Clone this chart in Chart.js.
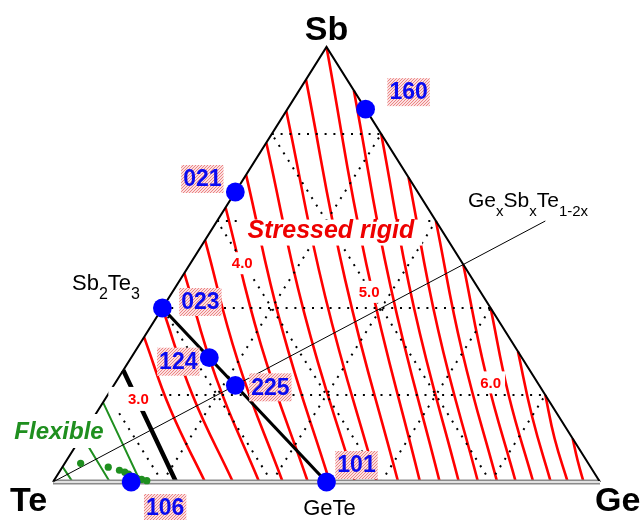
<!DOCTYPE html>
<html><head><meta charset="utf-8">
<script src="https://cdn.jsdelivr.net/npm/chart.js@4.4.1/dist/chart.umd.min.js"></script>
<style>html,body{margin:0;padding:0;background:#fff;overflow:hidden}</style>
</head><body>
<canvas id="c" width="642" height="520" style="display:block;width:642px;height:520px"></canvas>
<script>
// ---- data (atomic fractions) ----
const sampleNames = ['160','021','023','124','225','101','106'];
const sampleGe = [1/7, 0, 0, 1/7, 2/9, 1/2, 1/7];
const sampleSb = [6/7, 2/3, 2/5, 2/7, 2/9, 0, 0];

const greenGe = [0.029, 0.084, 0.108, 0.120, 0.129, 0.141, 0.149, 0.159, 0.170];
const greenSb = [0.043, 0.034, 0.027, 0.0225, 0.018, 0.012, 0.0085, 0.006, 0.003];

// constraint contours: end on the upper edge, pass a mid point, end on the Te-Ge base
const contourValues = [2.4,2.6,2.8,3.0,3.2,3.4,3.6,3.8,4.0,4.2,4.4,4.6,4.8,5.0,5.2,5.4,5.6,5.8,6.0,6.2,6.4,6.6,6.8];
const contourTopGe  = [0,0,0,0,0,0,0,0,0,0,0,0,0,0,0.1,0.2,0.3,0.4,0.5,0.6,0.7,0.8,0.9];
const contourTopSb  = [0.035,0.106,0.183,0.257,0.333,0.40,0.48,0.556,0.631,0.706,0.78,0.853,0.925,1.0,0.9,0.8,0.7,0.6,0.5,0.4,0.3,0.2,0.1];
const contourMidGe  = [null,null,null,null,0.131,0.155,0.178,0.199,0.222,0.242,0.264,0.284,0.303,0.323,0.392,0.460,0.529,0.598,0.666,0.733,0.801,0.867,0.934];
const contourMidSb  = [null,null,null,null,0.167,0.200,0.240,0.278,0.316,0.353,0.390,0.427,0.463,0.500,0.450,0.400,0.350,0.300,0.250,0.200,0.150,0.100,0.050];
const contourBaseGe = [0.036,0.104,0.16,0.225,0.278,0.329,0.377,0.420,0.466,0.506,0.552,0.592,0.631,0.671,0.707,0.742,0.777,0.812,0.846,0.878,0.910,0.941,0.970];
const contourLabelValues = ['3.0','4.0','5.0','6.0'];

const gridLevels = [0.2, 0.4, 0.6, 0.8];
const tieGe = [0, 0.5];      // Sb2Te3 -> GeTe
const tieSb = [0.4, 0];
const seriesX = [0, 0.6];    // GexSbxTe1-2x

// ---- helpers ----
const P = (g, s) => ({x: g + s / 2, y: s});
const lineDS = (pts, color, width, order, dash, tension) => ({
  data: pts, showLine: true, borderColor: color, backgroundColor: color, borderWidth: width,
  pointRadius: 0, pointHoverRadius: 0, fill: false, tension: tension || 0, clip: false, order: order,
  borderDash: dash || [], borderCapStyle: 'butt'
});

const datasets = [];
contourValues.forEach((v, i) => {
  let color = '#ff0000', w = 2.6;
  if (v < 3) { color = '#1f8f1f'; w = 2; }
  else if (v === 3) { color = '#000000'; w = 4.5; }
  const pts = [P(contourTopGe[i], contourTopSb[i])];
  if (contourMidGe[i] !== null) pts.push(P(contourMidGe[i], contourMidSb[i]));
  pts.push(P(contourBaseGe[i], 0));
  datasets.push(lineDS(pts, color, w, 60, null, 0.45));
});
gridLevels.forEach(k => {
  datasets.push(lineDS([P(0, k), P(1 - k, k)], '#000', 2, 50, [2, 6.8]));
  datasets.push(lineDS([P(k, 0), P(k, 1 - k)], '#000', 2, 50, [2, 6.8]));
  datasets.push(lineDS([P(1 - k, 0), P(0, 1 - k)], '#000', 2, 50, [2, 6.8]));
});
datasets.push(lineDS([P(0, 0), P(0, 1), P(1, 0)], '#000', 2, 40));
datasets.push(lineDS([P(0, 0), P(1, 0)], '#8a8a8a', 5, 40));
datasets.push(lineDS([P(0, 0), P(1, 0)], '#e2e2e2', 2, 39));
datasets.push(lineDS(tieGe.map((g, i) => P(g, tieSb[i])), '#000', 3.2, 30));
datasets.push(lineDS(seriesX.map(x => P(x, x)), '#000', 1, 30));
datasets.push({data: greenGe.map((g, i) => P(g, greenSb[i])), pointRadius: 3.6, pointBackgroundColor: '#1f8f1f',
  pointBorderWidth: 0, showLine: false, order: 20, clip: false});
datasets.push({data: sampleGe.map((g, i) => P(g, sampleSb[i])), pointRadius: 9.4, pointBackgroundColor: '#0000ff',
  pointBorderWidth: 0, showLine: false, order: 10, clip: false});

function makePattern(ctx) {
  const c = document.createElement('canvas'); c.width = 3; c.height = 3;
  const x = c.getContext('2d');
  x.fillStyle = '#fbe0e0'; x.fillRect(0, 0, 3, 3);
  x.fillStyle = '#ec8484'; x.fillRect(0, 0, 1, 1); x.fillRect(2, 1, 1, 1); x.fillRect(1, 2, 1, 1);
  return ctx.createPattern(c, 'repeat');
}

const sampleLabelOffset = {'160':[43,-17],'021':[-33,-13],'023':[38,-6],'124':[-31,4],'225':[35,2],'101':[30,-17],'106':[34,26]};
const contourLabelPos = [[0.156,0.191],[0.346,0.503],[0.578,0.437],[0.800,0.229]];

const annot = {
  id: 'annot',
  afterDatasetsDraw(chart) {
    const ctx = chart.ctx, sx = chart.scales.x, sy = chart.scales.y;
    const pix = (X, Y) => [sx.getPixelForValue(X), sy.getPixelForValue(Y)];
    ctx.save();
    ctx.fillStyle = '#fff';
    ctx.font = 'italic bold 25px "Liberation Sans", Arial, sans-serif';
    ctx.textAlign = 'center'; ctx.textBaseline = 'middle';
    const sr = pix(0.508, 0.578);
    const srw = ctx.measureText('Stressed rigid').width;
    ctx.fillRect(sr[0] - srw / 2 - 8, sr[1] - 11, srw + 16, 26);
    ctx.fillRect(8, 414, 98, 34);
    ctx.font = 'bold 15px "Liberation Sans", Arial, sans-serif';
    contourLabelValues.forEach((t, i) => {
      const p = pix(contourLabelPos[i][0], contourLabelPos[i][1]);
      const w = ctx.measureText(t).width;
      ctx.fillStyle = '#fff';
      if (i === 0) ctx.fillRect(p[0] - 30, p[1] - 12, 51, 24);
      else ctx.fillRect(p[0] - w / 2 - 4, p[1] - 11, w + 8, 22);
      ctx.fillStyle = '#ff0000';
      ctx.fillText(t, p[0], p[1] + 1);
    });
    ctx.font = 'italic bold 25px "Liberation Sans", Arial, sans-serif';
    ctx.fillStyle = '#ee0000';
    ctx.fillText('Stressed rigid', sr[0], sr[1] + 1);
    ctx.fillStyle = '#1f8f1f';
    ctx.font = 'italic bold 24px "Liberation Sans", Arial, sans-serif';
    ctx.fillText('Flexible', 59, 432);

    const pat = makePattern(ctx);
    ctx.font = 'bold 23px "Liberation Sans", Arial, sans-serif';
    sampleNames.forEach((n, i) => {
      const p = pix(sampleGe[i] + sampleSb[i] / 2, sampleSb[i]);
      const o = sampleLabelOffset[n];
      const cx = p[0] + o[0], cy = p[1] + o[1];
      const w = ctx.measureText(n).width;
      ctx.fillStyle = pat;
      ctx.fillRect(cx - w / 2 - 2, cy - 14, w + 4, 28);
      ctx.fillStyle = '#0a0af0';
      ctx.fillText(n, cx, cy + 1);
    });

    ctx.fillStyle = '#000';
    ctx.textBaseline = 'alphabetic';
    ctx.font = 'bold 34px "Liberation Sans", Arial, sans-serif';
    const top = pix(0.5, 1), te = pix(0, 0), ge = pix(1, 0);
    ctx.textAlign = 'center'; ctx.fillText('Sb', top[0], top[1] - 7);
    ctx.textAlign = 'left'; ctx.fillText('Te', te[0] - 43, te[1] + 29);
    ctx.fillText('Ge', ge[0] - 5, ge[1] + 29);
    ctx.font = '22px "Liberation Sans", Arial, sans-serif';
    const gt = pix(0.5, 0);
    ctx.textAlign = 'center'; ctx.fillText('GeTe', gt[0] + 3, gt[1] + 33);

    function formula(parts, x, y, big, small, drop) {
      ctx.textAlign = 'left';
      parts.forEach(([t, sub]) => {
        ctx.font = (sub ? small : big) + 'px "Liberation Sans", Arial, sans-serif';
        ctx.fillText(t, x, y + (sub ? drop : 0));
        x += ctx.measureText(t).width;
      });
    }
    formula([['Sb',0],['2',1],['Te',0],['3',1]], 72, 290, 22, 16, 9);
    formula([['Ge',0],['x',1],['Sb',0],['x',1],['Te',0],['1-2x',1]], 468, 207, 21, 15, 9);
    ctx.restore();
  }
};

new Chart(document.getElementById('c'), {
  type: 'scatter',
  data: {datasets},
  options: {
    responsive: false, animation: false, devicePixelRatio: 1,
    layout: {padding: {left: 53, right: 42, top: 47, bottom: 38}},
    scales: {
      x: {type: 'linear', min: 0, max: 1, display: false},
      y: {type: 'linear', min: 0, max: 1, display: false}
    },
    plugins: {legend: {display: false}, tooltip: {enabled: false}},
    events: []
  },
  plugins: [annot]
});
</script>
</body></html>
